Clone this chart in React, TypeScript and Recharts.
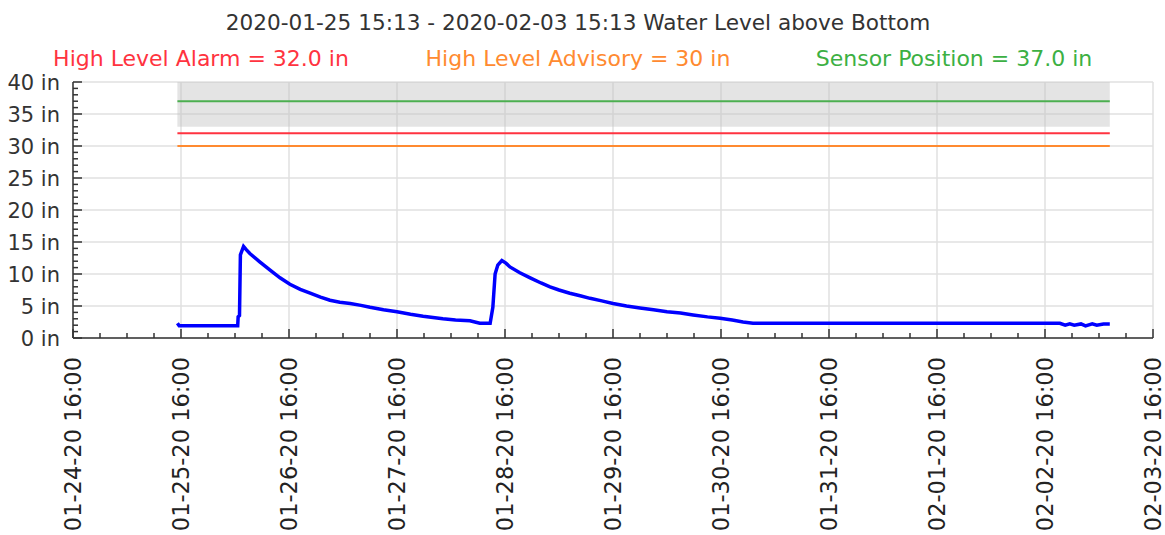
import React from 'react';
import {
  ComposedChart,
  Line,
  XAxis,
  YAxis,
  CartesianGrid,
  ReferenceArea,
} from 'recharts';

// -- Data --
// x = hours since 01-24-20 16:00

const levelHours = [
  23.2, 23.6, 36.6, 36.7, 37.0, 37.2, 37.9, 38.5, 39.3, 41.5, 43.8, 46, 48.2, 50.5, 52.7, 55, 57.1, 59.3,
  61.6, 64, 66, 69, 72, 75, 77.8, 80, 82.2, 85, 88.2, 90.4, 92.7, 93.3, 93.8, 94.4, 95.3, 96.2, 97.1,
  99.3, 101.6, 104, 106, 108, 110.4, 112.7, 114.9, 117.5, 120, 123, 126, 129, 132, 135, 137.8, 141,
  143.8, 146.5, 148.9, 151.1, 219.3, 220.5, 221.5, 222.5, 224, 225, 226.5, 227.5, 229, 230.4,
];

const levelInches = [
  2.3, 1.9, 1.9, 3.3, 3.5, 13.0, 14.3, 13.8, 13.2, 11.9, 10.6, 9.4, 8.4, 7.6, 7.0, 6.4, 5.9, 5.6,
  5.4, 5.1, 4.8, 4.4, 4.1, 3.7, 3.4, 3.2, 3.0, 2.8, 2.7, 2.3, 2.3, 4.8, 10.0, 11.4, 12.1, 11.7, 11.1,
  10.2, 9.4, 8.6, 8.0, 7.5, 7.0, 6.6, 6.2, 5.8, 5.4, 5.0, 4.7, 4.4, 4.1, 3.9, 3.6, 3.3,
  3.1, 2.8, 2.5, 2.3, 2.3, 2.0, 2.2, 2.0, 2.2, 1.9, 2.2, 2.0, 2.2, 2.2,
];

const HIGH_ALARM = 32.0;
const HIGH_ADVISORY = 30;
const SENSOR_POSITION = 37.0;
const BAND_LOW = 33;
const BAND_HIGH = 40;

const xTickLabels = [
  '01-24-20 16:00',
  '01-25-20 16:00',
  '01-26-20 16:00',
  '01-27-20 16:00',
  '01-28-20 16:00',
  '01-29-20 16:00',
  '01-30-20 16:00',
  '01-31-20 16:00',
  '02-01-20 16:00',
  '02-02-20 16:00',
  '02-03-20 16:00',
];

const yTickLabels = ['0 in', '5 in', '10 in', '15 in', '20 in', '25 in', '30 in', '35 in', '40 in'];

const TITLE = '2020-01-25 15:13 - 2020-02-03 15:13 Water Level above Bottom';

const FONT = '"DejaVu Sans", sans-serif';

const levelData = levelHours.map((h, i) => ({ h, v: levelInches[i] }));
const startH = levelHours[0];
const endH = levelHours[levelHours.length - 1];
const flat = (v: number) => [
  { h: startH, v },
  { h: endH, v },
];

// 6 hour minor ticks, daily labels; 1 inch minor ticks, labels every 5
const xTicks: number[] = [];
for (let h = 0; h <= 24 * (xTickLabels.length - 1); h += 6) xTicks.push(h);
const yTicks: number[] = [];
for (let v = 0; v <= 40; v += 1) yTicks.push(v);
const xMajor = xTicks.filter((h) => h % 24 === 0);
const yMajor = yTicks.filter((v) => v % 5 === 0);

const XTick = (props: any) => {
  const { x, y, payload } = props;
  const major = payload.value % 24 === 0;
  return (
    <g>
      <line x1={x} y1={y} x2={x} y2={y - (major ? 9 : 5)} stroke="#333" strokeWidth={1.5} />
      {major && (
        <text
          transform={`translate(${x},${y + 19}) rotate(-90)`}
          textAnchor="end"
          dy="0.36em"
          fontSize={22.5}
          fill="#222"
          fontFamily={FONT}
        >
          {xTickLabels[payload.value / 24]}
        </text>
      )}
    </g>
  );
};

const YTick = (props: any) => {
  const { x, y, payload } = props;
  const major = payload.value % 5 === 0;
  return (
    <g>
      <line x1={x} y1={y} x2={x + (major ? 9 : 5)} y2={y} stroke="#333" strokeWidth={1.5} />
      {major && (
        <text x={x - 13} y={y} dy="0.36em" textAnchor="end" fontSize={21} fill="#333" fontFamily={FONT}>
          {yTickLabels[payload.value / 5]}
        </text>
      )}
    </g>
  );
};

export default function App() {
  return (
    <div style={{ position: 'absolute', left: 0, top: 0, width: 1165, height: 535, background: '#fff' }}>
      <ComposedChart width={1165} height={535} margin={{ top: 82, right: 12, bottom: 0, left: 0 }}>
        <CartesianGrid
          stroke="#e0e0e0"
          strokeWidth={1.5}
          horizontalValues={yMajor}
          verticalValues={xMajor}
        />
        <ReferenceArea
          x1={startH}
          x2={endH}
          y1={BAND_LOW}
          y2={BAND_HIGH}
          fill="#c4c4c4"
          fillOpacity={0.45}
          stroke="none"
        />
        <XAxis
          dataKey="h"
          type="number"
          domain={[0, 240]}
          ticks={xTicks}
          interval={0}
          height={197}
          tickSize={0}
          tickMargin={0}
          tickLine={false}
          axisLine={{ stroke: '#333', strokeWidth: 1.5 }}
          tick={<XTick />}
          allowDataOverflow
        />
        <YAxis
          type="number"
          domain={[0, 40]}
          ticks={yTicks}
          interval={0}
          width={73}
          tickSize={0}
          tickMargin={0}
          tickLine={false}
          axisLine={{ stroke: '#333', strokeWidth: 1.5 }}
          tick={<YTick />}
          allowDataOverflow
        />
        <Line data={flat(SENSOR_POSITION)} dataKey="v" stroke="#4caf50" strokeWidth={2} dot={false} activeDot={false} isAnimationActive={false} />
        <Line data={flat(HIGH_ALARM)} dataKey="v" stroke="#ff3340" strokeWidth={2} dot={false} activeDot={false} isAnimationActive={false} />
        <Line data={flat(HIGH_ADVISORY)} dataKey="v" stroke="#ff8a30" strokeWidth={2} dot={false} activeDot={false} isAnimationActive={false} />
        <Line data={levelData} dataKey="v" stroke="#0000ff" strokeWidth={3.5} dot={false} activeDot={false} isAnimationActive={false} />
      </ComposedChart>
      <svg width={1165} height={80} style={{ position: 'absolute', left: 0, top: 0 }} fontFamily={FONT} fontSize={22}>
        <text x={578} y={30} textAnchor="middle" fill="#333" fontSize={21.6}>{TITLE}</text>
        <text x={201} y={66} textAnchor="middle" fill="#ff3340">{`High Level Alarm = ${HIGH_ALARM.toFixed(1)} in`}</text>
        <text x={578} y={66} textAnchor="middle" fill="#ff8a30">{`High Level Advisory = ${HIGH_ADVISORY} in`}</text>
        <text x={954} y={66} textAnchor="middle" fill="#3cb043">{`Sensor Position = ${SENSOR_POSITION.toFixed(1)} in`}</text>
      </svg>
    </div>
  );
}
